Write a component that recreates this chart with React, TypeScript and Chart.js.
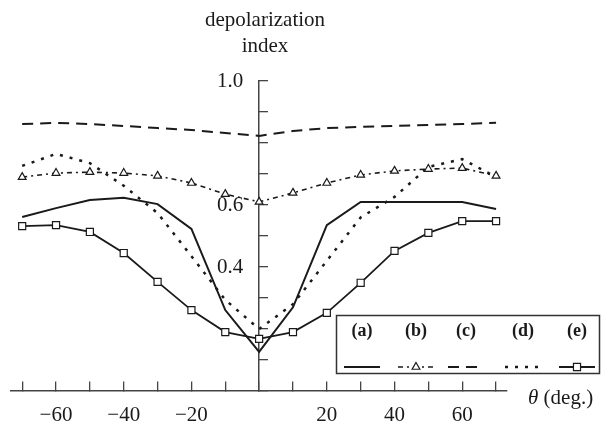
import React, { useEffect, useRef } from 'react';
import { Chart, registerables } from 'chart.js';

Chart.register(...registerables);

// ---- data ----
const angles = [-70, -60, -50, -40, -30, -20, -10, 0, 10, 20, 30, 40, 50, 60, 70];
const seriesA = [0.561, 0.59, 0.616, 0.623, 0.603, 0.523, 0.261, 0.126, 0.27, 0.535, 0.61, 0.61, 0.61, 0.61, 0.587];
const seriesB = [0.69, 0.703, 0.706, 0.703, 0.694, 0.671, 0.635, 0.61, 0.639, 0.671, 0.697, 0.71, 0.716, 0.719, 0.694];
const seriesC = [0.861, 0.865, 0.861, 0.855, 0.848, 0.842, 0.832, 0.823, 0.839, 0.848, 0.852, 0.855, 0.858, 0.861, 0.865];
const seriesD = [0.726, 0.765, 0.735, 0.662, 0.574, 0.435, 0.294, 0.2, 0.28, 0.42, 0.56, 0.626, 0.723, 0.748, 0.69];
const seriesE = [0.532, 0.535, 0.513, 0.445, 0.352, 0.261, 0.19, 0.168, 0.19, 0.252, 0.349, 0.452, 0.51, 0.548, 0.548];
const legendLabels = ['(a)', '(b)', '(c)', '(d)', '(e)'];
const xTickValues = [-70, -60, -50, -40, -30, -20, -10, 0, 10, 20, 30, 40, 50, 60, 70];
const xLabelValues = [-60, -40, -20, 20, 40, 60];
const yTickValues = [0, 0.1, 0.2, 0.3, 0.4, 0.5, 0.6, 0.7, 0.8, 0.9, 1.0];
const yLabelValues = [0.4, 0.6, 1.0];
const yAxisTitle = ['depolarization', 'index'];
const xAxisTitleSymbol = 'θ';
const xAxisTitleUnit = ' (deg.)';

const INK = '#1a1a1a';
const SERIF = '"Liberation Serif", "Times New Roman", serif';

const legendCenters = [362, 416, 466, 523, 577];

function drawMarker(ctx: CanvasRenderingContext2D, style: string, x: number, y: number, r: number) {
  ctx.beginPath();
  if (style === 'triangle') {
    const w = r * Math.sin(Math.PI / 3);
    ctx.moveTo(x, y - r);
    ctx.lineTo(x + w, y + r / 2);
    ctx.lineTo(x - w, y + r / 2);
    ctx.closePath();
  } else if (style === 'rect') {
    const s = r * Math.SQRT1_2;
    ctx.rect(x - s, y - s, 2 * s, 2 * s);
  }
  ctx.fill();
  ctx.stroke();
}

const boxLegend = {
  id: 'boxLegend',
  afterDraw(chart: any) {
    const ctx: CanvasRenderingContext2D = chart.ctx;
    ctx.save();
    ctx.setLineDash([]);
    ctx.strokeStyle = '#333';
    ctx.lineWidth = 1.5;
    ctx.strokeRect(336.5, 315.5, 263, 58);
    ctx.font = 'bold 18px ' + SERIF;
    ctx.textAlign = 'center';
    ctx.textBaseline = 'middle';
    ctx.fillStyle = INK;
    legendLabels.forEach((lab, i) => {
      const cx = legendCenters[i];
      ctx.fillText(lab, cx, 331);
      const ds = chart.data.datasets[i];
      ctx.strokeStyle = ds.borderColor;
      ctx.lineWidth = ds.borderWidth;
      ctx.setLineDash(ds.borderDash || []);
      ctx.beginPath();
      ctx.moveTo(cx - 18, 367);
      ctx.lineTo(cx + 18, 367);
      ctx.stroke();
      ctx.setLineDash([]);
      if (ds.pointRadius > 0) {
        ctx.fillStyle = ds.pointBackgroundColor;
        ctx.strokeStyle = ds.pointBorderColor;
        ctx.lineWidth = ds.pointBorderWidth;
        drawMarker(ctx, ds.pointStyle, cx, 367, ds.pointRadius);
        ctx.fillStyle = INK;
      }
    });
    ctx.restore();
  },
};

const near = (a: number, b: number) => Math.abs(a - b) < 1e-6;

export default function App() {
  const ref = useRef<HTMLCanvasElement>(null);
  useEffect(() => {
    if (!ref.current) return;
    const mk = (d: number[]) => angles.map((a, i) => ({ x: a, y: d[i] }));
    const chart = new Chart(ref.current, {
      type: 'line',
      data: {
        datasets: [
          { label: '(a)', data: mk(seriesA), borderColor: INK, borderWidth: 2, pointRadius: 0, borderDash: [] },
          {
            label: '(b)', data: mk(seriesB), borderColor: INK, borderWidth: 1.6, borderDash: [5, 4, 2, 4],
            pointStyle: 'triangle', pointRadius: 4.5, pointBackgroundColor: '#fff', pointBorderColor: INK, pointBorderWidth: 1.2,
          },
          { label: '(c)', data: mk(seriesC), borderColor: INK, borderWidth: 2, pointRadius: 0, borderDash: [11, 7] },
          { label: '(d)', data: mk(seriesD), borderColor: INK, borderWidth: 2.5, pointRadius: 0, borderDash: [3, 7] },
          {
            label: '(e)', data: mk(seriesE), borderColor: INK, borderWidth: 1.8, borderDash: [],
            pointStyle: 'rect', pointRadius: 5, pointBackgroundColor: '#fff', pointBorderColor: INK, pointBorderWidth: 1.2,
          },
        ] as any,
      },
      options: {
        animation: false,
        responsive: false,
        devicePixelRatio: 1,
        layout: { padding: { left: 8, right: 95, top: 81, bottom: 37 } },
        plugins: { legend: { display: false }, tooltip: { enabled: false }, title: { display: false } },
        scales: {
          x: {
            type: 'linear',
            position: { y: 0 } as any,
            min: -73.23,
            max: 73.23,
            afterBuildTicks: (s: any) => { s.ticks = xTickValues.map((v) => ({ value: v })); },
            grid: { drawOnChartArea: false, drawTicks: true, tickLength: -10, color: '#444', lineWidth: 1.3 },
            border: { display: true, color: '#444', width: 1.5 },
            ticks: {
              autoSkip: false, maxRotation: 0, padding: 22, color: INK,
              font: { family: SERIF, size: 21 },
              callback: (v: any) => {
                const n = Number(v);
                if (!xLabelValues.some((l) => near(l, n))) return '';
                return n < 0 ? '\u2212' + Math.abs(n) : String(n);
              },
            },
          },
          y: {
            type: 'linear',
            position: { x: 0 } as any,
            min: 0,
            max: 1.0,
            afterBuildTicks: (s: any) => { s.ticks = yTickValues.map((v) => ({ value: v })); },
            grid: { drawOnChartArea: false, drawTicks: true, tickLength: -10, color: '#444', lineWidth: 1.3 },
            border: { display: true, color: '#444', width: 1.5 },
            ticks: {
              autoSkip: false, padding: 24, color: INK,
              font: { family: SERIF, size: 21 },
              callback: (v: any) => {
                const n = Number(v);
                // trailing spaces keep the label clear of the centred axis line
                return yLabelValues.some((l) => near(l, n)) ? n.toFixed(1) + '   ' : '';
              },
            },
          },
        },
      },
      plugins: [boxLegend],
    });
    return () => chart.destroy();
  }, []);

  const txt: React.CSSProperties = {
    position: 'absolute', fontFamily: SERIF, color: INK, whiteSpace: 'nowrap', lineHeight: '21px',
  };
  return (
    <div style={{ position: 'fixed', left: 0, top: 0, width: 602, height: 428, background: '#fff', overflow: 'hidden' }}>
      <canvas ref={ref} width={602} height={428} style={{ display: 'block', position: 'absolute', left: 0, top: 0 }} />
      <div style={{ ...txt, left: 165, width: 200, textAlign: 'center', top: 9, fontSize: 21 }}>{yAxisTitle[0]}</div>
      <div style={{ ...txt, left: 165, width: 200, textAlign: 'center', top: 35, fontSize: 21 }}>{yAxisTitle[1]}</div>
      <div style={{ ...txt, left: 528, top: 387, fontSize: 21, lineHeight: '21px' }}>
        <i>{xAxisTitleSymbol}</i>{xAxisTitleUnit}
      </div>
    </div>
  );
}
